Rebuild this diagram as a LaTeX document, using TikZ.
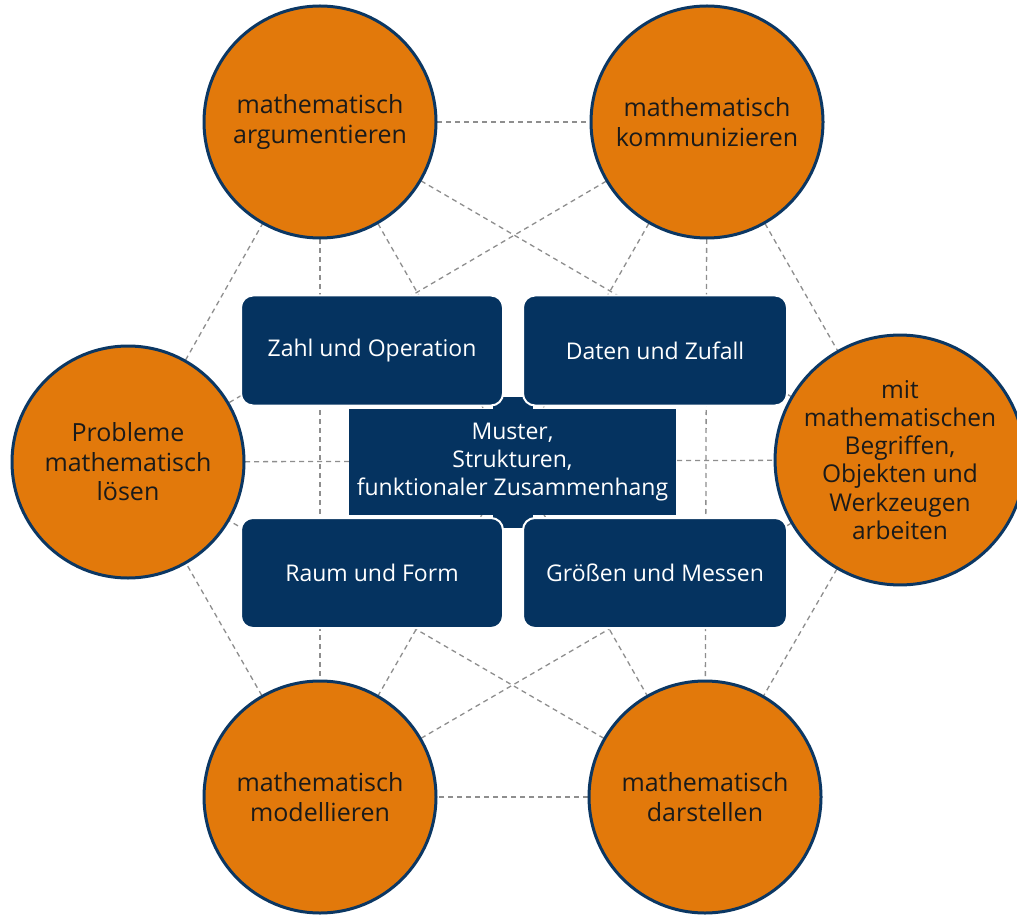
\documentclass[tikz,border=0pt]{standalone}
\usepackage{fontspec}
\setmainfont{Open Sans}
\definecolor{orng}{HTML}{E2790B}
\definecolor{navy}{HTML}{053360}
\definecolor{ringnavy}{HTML}{0B3763}
\definecolor{dgray}{HTML}{8E8E8E}
\definecolor{ink}{HTML}{1A1A1A}
\pgfdeclarelayer{bg}
\pgfsetlayers{bg,main}
\begin{document}
\begin{tikzpicture}[x=1pt,y=-1pt,
  comp/.style={circle, draw=ringnavy, line width=3pt, fill=orng, minimum size=232pt,
    inner sep=0pt, align=center, text=ink, font=\fontsize{25}{29.5}\selectfont},
  area/.style={rectangle, rounded corners=12pt, fill=navy, draw=white, line width=2pt,
    minimum height=110pt, inner sep=0pt, text=white, font=\fontsize{23}{29}\selectfont},
  core/.style={rectangle, fill=navy, minimum width=327pt, minimum height=106pt,
    inner sep=0pt, text=white, align=center, font=\fontsize{23}{28}\selectfont},
  tabbox/.style={rectangle, fill=navy, minimum width=40pt, minimum height=131pt, inner sep=0pt},
  link/.style={draw=dgray, line width=1.3pt, dash pattern=on 5pt off 4pt}]
\useasboundingbox (0,0) rectangle (1017,917);

% competence circles
\node[comp] (tl) at (320,122) {mathematisch\\argumentieren};
\node[comp] (tr) at (707,122) {mathematisch\\kommunizieren};
\node[comp] (l) at (128,462) {Probleme\\mathematisch\\lösen};
\node[comp, minimum size=227pt, font=\fontsize{24.5}{28.2}\selectfont] (r) at (900,460)
  {mit\\mathematischen\\Begriffen,\\Objekten und\\Werkzeugen\\arbeiten};
\node[comp] (bl) at (320,797) {mathematisch\\modellieren};
\node[comp] (br) at (705,797) {mathematisch\\darstellen};

% content areas
\node[tabbox] (tab) at (513,462.5) {};
\node[core] (mid) at (512.5,462) {Muster,\\Strukturen,\\funktionaler Zusammenhang};
\node[area, minimum width=262pt] (zahl) at (372,350.5) {Zahl und Operation};
\node[area, minimum width=264pt] (daten) at (655,350.5) {Daten und Zufall};
\node[area, minimum width=262pt] (raum) at (372,573) {Raum und Form};
\node[area, minimum width=264pt] (groe) at (655,573) {Größen und Messen};

\begin{pgfonlayer}{bg}
  \fill[white] (0,0) rectangle (1017,917);
  \foreach \a/\b in {tl/tr, tr/r, r/br, br/bl, bl/l, l/tl, tl/bl, tr/br, tl/r, tr/l,
                     bl/r, br/l, tl/br, tr/bl, l/r}
    \draw[link] (\a.center) -- (\b.center);
\end{pgfonlayer}
\end{tikzpicture}
\end{document}
